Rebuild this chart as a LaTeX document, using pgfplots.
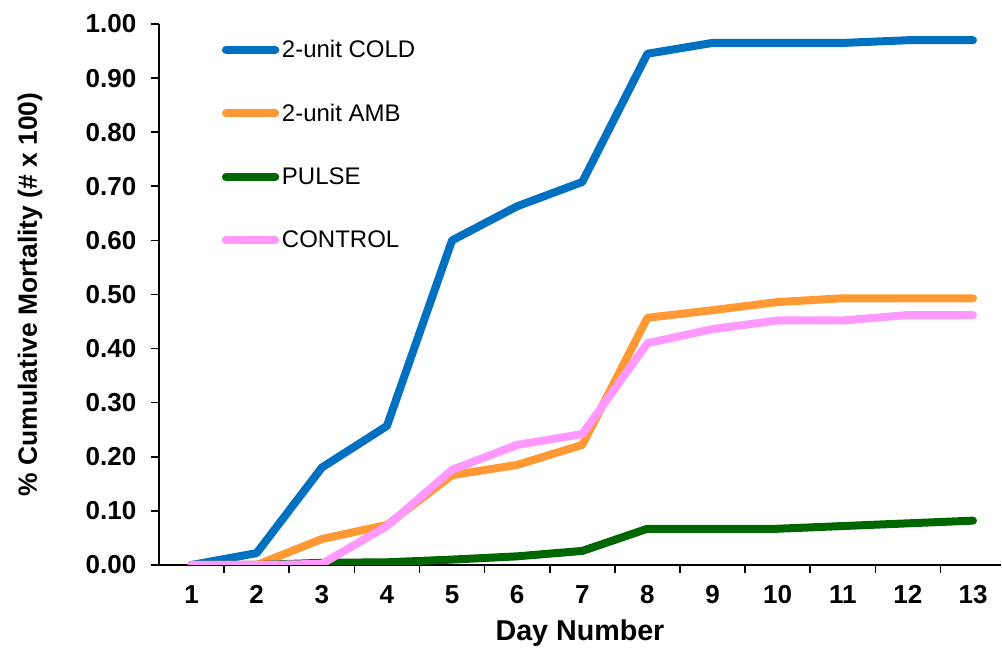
\documentclass[border=0pt]{standalone}
\usepackage{pgfplots}
\pgfplotsset{compat=1.18}
\usepackage{fontspec}
\setmainfont{Liberation Sans}
\definecolor{cold}{RGB}{0,112,192}
\definecolor{amb}{RGB}{255,153,51}
\definecolor{pulse}{RGB}{0,102,0}
\definecolor{ctrl}{RGB}{255,153,255}
\begin{document}
\begin{tikzpicture}
\useasboundingbox (-119.25pt,-68.25pt) rectangle (632.25pt,423.75pt);
\begin{axis}[
  at={(0pt,0pt)}, anchor=south west,
  scale only axis, width=631.5pt, height=405.75pt,
  xmin=0.5, xmax=13.43, ymin=0, ymax=1.0,
  axis lines*=left,
  axis line style={line width=1.4pt, black},
  every tick/.style={line width=1.2pt, black},
  tick align=outside,
  xtick={1,...,13},
  major x tick style={draw=none},
  minor xtick={1.5,2.5,...,12.5},
  minor tick length=6pt,
  major tick length=6pt,
  ytick={0,0.1,...,1.01},
  yticklabel style={xshift=-7.5pt, /pgf/number format/.cd, fixed, fixed zerofill, precision=2, assume math mode=true},
  xticklabel style={yshift=-6pt, /pgf/number format/assume math mode=true},
  tick label style={font=\fontsize{19.5}{21}\selectfont\bfseries},
  xlabel={Day Number},
  ylabel={\% Cumulative Mortality (\# x 100)},
  xlabel style={font=\fontsize{21.5}{24}\selectfont\bfseries, at={(axis description cs:0.5,-0.1257)}, anchor=center},
  ylabel style={font=\fontsize{19.8}{22}\selectfont\bfseries, at={(axis description cs:-0.1532,0.5)}, anchor=center},
  legend style={draw=none, fill=none, at={(47pt,396pt)}, anchor=north west,
    font=\fontsize{18}{20}\selectfont, row sep=29.3pt, inner sep=0pt},
  legend cell align=left,
  legend image code/.code={\draw[#1, line cap=round] (0pt,0pt) -- (37pt,0pt);},
  every axis plot/.append style={line width=6pt, line join=round, line cap=round},
]
\addplot[cold] coordinates {(1,0) (2,0.022) (3,0.18) (4,0.257) (5,0.60) (6,0.663) (7,0.708) (8,0.945) (9,0.965) (10,0.965) (11,0.965) (12,0.970) (13,0.970)};
\addlegendentry{2-unit COLD}
\addplot[amb] coordinates {(1,0) (2,0) (3,0.048) (4,0.074) (5,0.166) (6,0.185) (7,0.222) (8,0.457) (9,0.471) (10,0.486) (11,0.493) (12,0.493) (13,0.493)};
\addlegendentry{2-unit AMB}
\addplot[pulse] coordinates {(1,0) (2,0) (3,0.004) (4,0.005) (5,0.010) (6,0.016) (7,0.026) (8,0.067) (9,0.067) (10,0.067) (11,0.072) (12,0.077) (13,0.082)};
\addlegendentry{PULSE}
\addplot[ctrl] coordinates {(1,0) (2,0) (3,0.002) (4,0.072) (5,0.176) (6,0.222) (7,0.242) (8,0.410) (9,0.436) (10,0.452) (11,0.452) (12,0.462) (13,0.462)};
\addlegendentry{CONTROL}
\end{axis}
\end{tikzpicture}
\end{document}
